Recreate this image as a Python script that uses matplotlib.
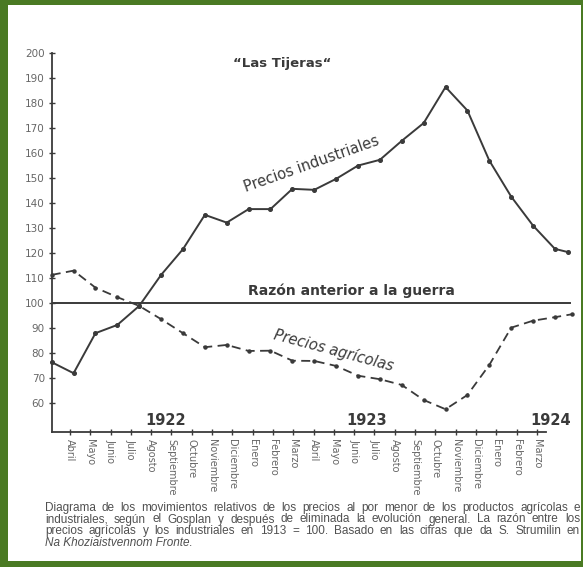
import matplotlib
matplotlib.use("Agg")
import matplotlib.pyplot as plt
from matplotlib.patches import Rectangle

# months since Marzo 1922
months = list(range(24)) + [23.6]
industriales = [76.4, 72.0, 88.0, 91.3, 98.9, 111.3, 121.6, 135.3, 132.2, 137.6,
                137.6, 145.7, 145.3, 149.7, 155.0, 157.3, 164.9, 172.0, 186.4, 177.0,
                157.0, 142.6, 131.0, 121.7, 120.4]
months_agr = list(range(24)) + [23.8]
agricolas = [111.3, 113.0, 106.2, 102.4, 98.9, 93.6, 88.0, 82.4, 83.3, 80.9,
             81.0, 77.0, 76.9, 74.9, 71.0, 69.6, 67.3, 61.3, 57.6, 63.3,
             75.3, 90.2, 93.0, 94.4, 95.6]
month_labels = ["Abril", "Mayo", "Junio", "Julio", "Agosto", "Septiembre", "Octubre",
                "Noviembre", "Diciembre", "Enero", "Febrero", "Marzo", "Abril", "Mayo",
                "Junio", "Julio", "Agosto", "Septiembre", "Octubre", "Noviembre",
                "Diciembre", "Enero", "Febrero", "Marzo"]
years = ["1922", "1923", "1924"]
year_pos = [5.2, 14.4, 22.8]
yticks = list(range(60, 201, 10))
caption = [
    "Diagrama de los movimientos relativos de los precios al por menor de los productos agrícolas e",
    "industriales, según el Gosplan y después de eliminada la evolución general. La razón entre los",
    "precios agrícolas y los industriales en 1913 = 100. Basado  en las cifras que da S. Strumilin en",
]
caption_last = "Na Khoziaistvennom Fronte."

W, H = 583, 567
INK = "#3a3a3a"
GREY = "#666666"
NARROW = ["Liberation Sans Narrow", "DejaVu Sans"]

fig = plt.figure(figsize=(W / 100, H / 100), dpi=100, facecolor="#4a7a23")
fig.add_artist(Rectangle((8 / W, 6 / H), (W - 2 - 8) / W, (H - 5 - 6) / H,
                         transform=fig.transFigure, facecolor="white",
                         edgecolor="none", zorder=0))

ax = fig.add_axes([51.7 / W, 135 / H, (575 - 51.7) / W, (432 - 53) / H])
ax.patch.set_visible(False)
ax.set_xlim(0, (575 - 51.7) / 21.88)
ax.set_ylim(48.5, 200)

ax.plot(months, industriales, color=INK, lw=1.4, marker="o", ms=2.6, clip_on=False)
ax.plot(months_agr, agricolas, color=INK, lw=1.3, ls=(0, (5, 3)), marker="o", ms=2.2,
        clip_on=False)
ax.axhline(100, xmax=0.99, color=INK, lw=1.4)

for s in ["top", "right"]:
    ax.spines[s].set_visible(False)
for s in ["left", "bottom"]:
    ax.spines[s].set_color(INK)
    ax.spines[s].set_linewidth(1.3)
ax.spines["bottom"].set_bounds(0, 22.6)

ax.set_yticks(yticks)
ax.set_yticklabels([str(v) for v in yticks], family=NARROW, fontsize=7.5, color=GREY)
ax.tick_params(axis="y", direction="inout", length=4, width=1, color=INK, pad=3)
ax.set_xticks([])

# month axis (its spacing differs slightly from the data in the original)
ax2 = ax.twiny()
ax2.set_xlim(1 - 18.3 / 20.3, 1 - 18.3 / 20.3 + (575 - 51.7) / 20.3)
ax2.xaxis.set_ticks_position("bottom")
ax2.xaxis.set_label_position("bottom")
for s in ax2.spines.values():
    s.set_visible(False)
ax2.set_xticks(range(1, 25))
ax2.set_xticklabels(month_labels, rotation=270, family=NARROW, fontsize=7, color=GREY,
                    va="top", ha="center")
ax2.tick_params(axis="x", direction="inout", length=4, width=1, color=INK, pad=3)

for y, p in zip(years, year_pos):
    ax.text(p, 53, y, ha="center", va="center", fontsize=10.5, fontweight="bold",
            color=INK)

ax.text(10.55, 196, "\u201cLas Tijeras\u201c", ha="center", va="center", fontsize=9.5,
        fontweight="bold", color=INK)
ax.text(11.9, 155.5, "Precios industriales", ha="center", va="center", fontsize=10.5,
        rotation=19.5, color=INK)
ax.text(13.7, 105, "Razón anterior a la guerra", ha="center", va="center", fontsize=10,
        fontweight="bold", color=INK)
ax.text(12.9, 81, "Precios agrícolas", ha="center", va="center", fontsize=10.5,
        rotation=-15, style="italic", color=INK)

# justified caption
cap_kw = dict(family="Liberation Sans", fontsize=8.5, color="#505050", va="center")
r = fig.canvas.get_renderer()


def justify(line, ypix, x0, x1):
    words = line.split()
    txts = [fig.text(0, 1 - ypix / H, w, **cap_kw) for w in words]
    widths = [t.get_window_extent(r).width for t in txts]
    gap = (x1 - x0 - sum(widths)) / (len(words) - 1)
    x = x0
    for t, w in zip(txts, widths):
        t.set_x(x / W)
        x += w + gap


justify(caption[0], 508, 45, 580)
justify(caption[1], 519.5, 45, 580)
justify(caption[2], 531, 45, 580)
fig.text(45 / W, 1 - 542.5 / H, caption_last, style="italic", **cap_kw)

fig.savefig("out.png", dpi=100, facecolor=fig.get_facecolor())
